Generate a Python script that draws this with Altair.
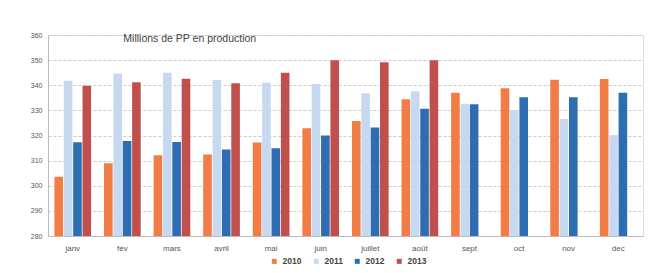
import altair as alt
import pandas as pd

months = ["janv", "fév", "mars", "avril", "mai", "juin", "juillet", "août", "sept", "oct", "nov", "dec"]
years = ["2010", "2011", "2012", "2013"]
v2010 = [303.6, 309.0, 312.1, 312.4, 317.2, 322.9, 325.8, 334.4, 337.0, 338.8, 342.2, 342.5]
v2011 = [341.8, 344.7, 345.0, 342.1, 341.0, 340.5, 336.8, 337.6, 332.6, 330.1, 326.6, 320.2]
v2012 = [317.3, 317.8, 317.4, 314.4, 314.9, 320.0, 323.2, 330.6, 332.4, 335.2, 335.2, 337.0]
v2013 = [339.8, 341.2, 342.6, 340.8, 345.0, 350.0, 349.2, 350.0, None, None, None, None]
colors = ["#F27C45", "#C6D9F1", "#2F6DB3", "#C0504D"]

rows = []
for y, vals in zip(years, [v2010, v2011, v2012, v2013]):
    for m, v in zip(months, vals):
        if v is not None:
            rows.append({"mois": m, "annee": y, "valeur": v})
df = pd.DataFrame(rows)

chart = alt.Chart(df).mark_bar(clip=True).encode(
    x=alt.X("mois:N", sort=months, title=None,
            scale=alt.Scale(paddingInner=0.26, paddingOuter=0.13),
            axis=alt.Axis(labelAngle=0, ticks=False, grid=False, labelFontSize=8, labelColor="#555555",
                          domainColor="#bbbbbb", labelPadding=8)),
    xOffset=alt.XOffset("annee:N", sort=years, scale=alt.Scale(paddingInner=0.08)),
    y=alt.Y("valeur:Q", title=None,
            scale=alt.Scale(domain=[280, 360], nice=False, zero=False),
            axis=alt.Axis(values=list(range(280, 361, 10)), labelFontSize=7, labelColor="#555555",
                          ticks=False, domainColor="#bbbbbb", gridColor="#cccccc",
                          gridDash=[3, 2], labelPadding=6)),
    color=alt.Color("annee:N", sort=years, scale=alt.Scale(domain=years, range=colors),
                    legend=alt.Legend(title=None, orient="none", direction="horizontal",
                                      legendX=222, legendY=222, symbolType="square",
                                      symbolSize=25, labelFontSize=8.5, labelFontWeight="bold",
                                      labelColor="#444444", columnPadding=10, symbolStrokeWidth=0)),
).properties(
    width=595, height=201,
    title=alt.TitleParams("Millions de PP en production", anchor="start", dx=93, offset=-13,
                          fontSize=10.5, fontWeight="normal", color="#444444"),
    autosize=alt.AutoSizeParams(type="none"),
    padding={"left": 40, "top": 27, "right": 17, "bottom": 36},
).configure_view(stroke=None).configure(font="Liberation Sans", background="white")

chart.save("out.html", embed_options={"renderer": "svg", "actions": False})
